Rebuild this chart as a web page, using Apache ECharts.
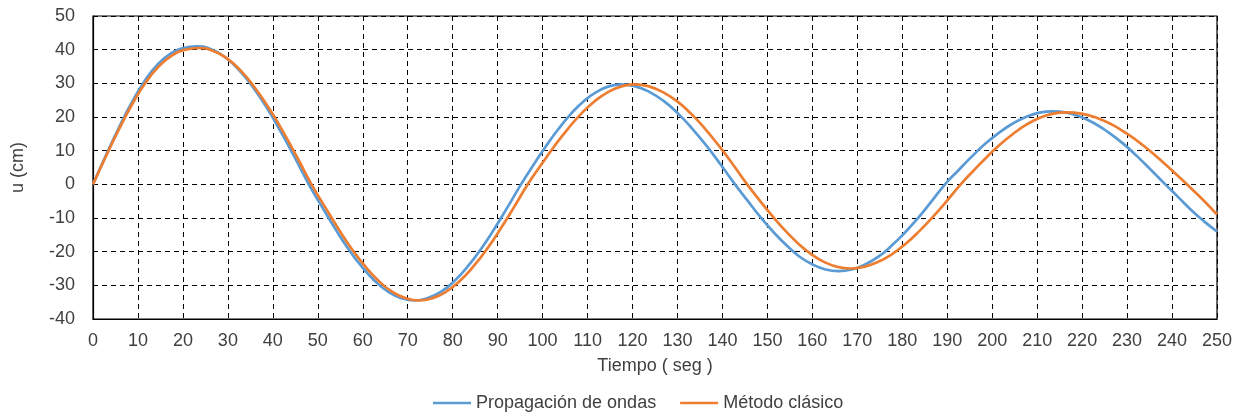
<!DOCTYPE html>
<html>
<head>
<meta charset="utf-8">
<script src="https://cdn.jsdelivr.net/npm/echarts@6/dist/echarts.min.js"></script>
<style>html,body{margin:0;padding:0;background:#fff;}#c{width:1242px;height:414px;}</style>
</head>
<body>
<div id="c"></div>
<script>
// Propagación de ondas: tiempo (seg) and desplazamiento u (cm)
const tiempoProp = [0,2.88,5.75,8.63,11.5,14.38,17.25,20.13,23,
  26.13,29.25,32.38,35.5,38.63,41.75,44.88,48,
  50.94,53.88,56.81,59.75,62.69,65.63,68.56,71.5,
  74.46,77.43,80.39,83.35,86.31,89.28,92.24,95.2,
  97.99,100.78,103.56,106.35,109.14,111.93,114.71,117.5,
  120.66,123.83,126.99,130.15,133.31,136.48,139.64,142.8,
  145.68,148.55,151.43,154.3,157.18,160.05,162.93,165.8,
  168.76,171.73,174.69,177.65,180.61,183.58,186.54,189.5,
  192.5,195.5,198.5,201.5,204.5,207.5,210.5,213.5,
  216.63,219.75,222.88,226,229.13,232.25,235.38,238.5,
  241.38,244.25,247.13,250];
const propagacion = [0,8.6,16.8,24.3,30.7,35.6,38.8,40.5,41,
  40.2,37.9,34.1,29,22.8,15.7,8,0,
  -6.7,-13.2,-19.2,-24.4,-28.7,-31.9,-33.8,-34.5,
  -33.8,-31.9,-28.7,-24.4,-19.2,-13.2,-6.7,0,
  5.8,11.4,16.5,21,24.7,27.4,29.1,29.7,
  29.1,27.4,24.7,21,16.5,11.4,5.8,0,
  -5,-9.9,-14.3,-18.2,-21.5,-23.8,-25.3,-25.8,
  -25.3,-23.8,-21.5,-18.2,-14.3,-9.9,-5,0,
  4.2,8.3,12.1,15.3,18,20,21.3,21.7,
  21.3,20,18,15.3,12.1,8.3,4.2,0,
  -3.8,-7.6,-11,-14];
// Método clásico
const tiempoClas = [0,2.94,5.88,8.81,11.75,14.69,17.63,20.56,23.5,
  26.64,29.78,32.91,36.05,39.19,42.33,45.46,48.6,
  51.59,54.58,57.56,60.55,63.54,66.53,69.51,72.5,
  75.53,78.55,81.58,84.6,87.63,90.65,93.68,96.7,
  99.68,102.65,105.63,108.6,111.58,114.55,117.53,120.5,
  123.63,126.75,129.88,133,136.13,139.25,142.38,145.5,
  148.36,151.23,154.09,156.95,159.81,162.68,165.54,168.4,
  171.48,174.55,177.63,180.7,183.78,186.85,189.93,193,
  195.94,198.88,201.81,204.75,207.69,210.63,213.56,216.5,
  219.85,223.2,226.55,229.9,233.25,236.6,239.95,243.3,
  246.65,250];
const clasico = [0,8.5,16.6,24,30.3,35.1,38.3,40,40.5,
  39.7,37.4,33.7,28.6,22.5,15.5,7.9,0,
  -6.7,-13.2,-19.2,-24.4,-28.7,-31.9,-33.8,-34.5,
  -33.8,-31.9,-28.7,-24.4,-19.2,-13.2,-6.7,0,
  5.8,11.4,16.5,21,24.7,27.4,29.1,29.7,
  29.1,27.4,24.7,21,16.5,11.4,5.8,0,
  -4.9,-9.6,-13.9,-17.7,-20.8,-23.1,-24.5,-25,
  -24.5,-23.1,-20.8,-17.7,-13.9,-9.6,-4.9,0,
  4.2,8.2,11.9,15.1,17.8,19.8,21,21.4,
  21,19.8,17.8,15.1,11.9,8.2,4.2,0,
  -4.3,-9];
const xTicks = {min:0, max:250, interval:10};
const yTicks = {min:-40, max:50, interval:10};

const chart = echarts.init(document.getElementById('c'));
const font = 'Liberation Sans, Arial, sans-serif';
const txt = '#404040';
chart.setOption({
  animation:false,
  backgroundColor:'#fff',
  grid:{left:93, right:25, top:16, bottom:95, show:true, borderColor:'#000', borderWidth:1.2, backgroundColor:'transparent'},
  legend:{
    left:433, top:394, padding:0, icon:'rect', itemWidth:38, itemHeight:2.5, itemGap:24,
    textStyle:{fontFamily:font, fontSize:18, color:txt},
    data:['Propagación de ondas','Método clásico']
  },
  xAxis:{
    type:'value', min:xTicks.min, max:xTicks.max, interval:xTicks.interval,
    name:'Tiempo ( seg )', nameLocation:'middle', nameGap:38,
    nameTextStyle:{fontFamily:font, fontSize:18, color:txt},
    axisLine:{show:true, onZero:false, lineStyle:{color:'#000', width:1.2}},
    axisTick:{show:false},
    axisLabel:{fontFamily:font, fontSize:18, color:txt, margin:13},
    splitLine:{show:true, lineStyle:{color:'#000', type:[5,4], width:1}}
  },
  yAxis:{
    type:'value', min:yTicks.min, max:yTicks.max, interval:yTicks.interval,
    name:'u (cm)', nameLocation:'middle', nameGap:66, nameRotate:90,
    nameTextStyle:{fontFamily:font, fontSize:18, color:txt},
    axisLine:{show:true, onZero:false, lineStyle:{color:'#000', width:1.2}},
    axisTick:{show:false},
    axisLabel:{fontFamily:font, fontSize:18, color:txt, margin:18},
    splitLine:{show:true, lineStyle:{color:'#000', type:[5,4], width:1}}
  },
  series:[
    {name:'Propagación de ondas', type:'line', smooth:true, symbol:'none',
     lineStyle:{color:'#5B9BD5', width:2.7}, itemStyle:{color:'#5B9BD5'},
     data: tiempoProp.map((t,i)=>[t, propagacion[i]])},
    {name:'Método clásico', type:'line', smooth:true, symbol:'none',
     lineStyle:{color:'#ED7D31', width:2.7}, itemStyle:{color:'#ED7D31'},
     data: tiempoClas.map((t,i)=>[t, clasico[i]])}
  ]
});
</script>
</body>
</html>
